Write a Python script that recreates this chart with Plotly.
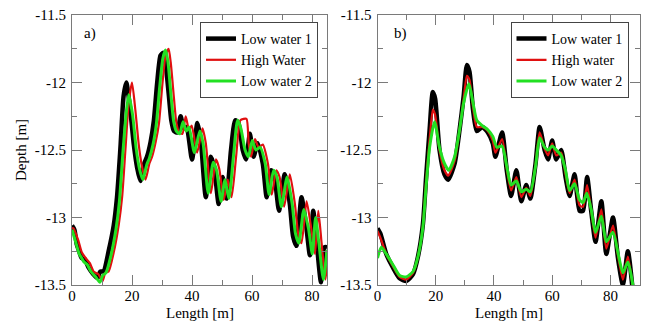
import plotly.graph_objects as go

# ---------------- data ----------------
# Panel a)
lw1_a_x = [0, 0.8, 1.6, 2.4, 3.2, 4.3, 5.5, 7.1, 8.5, 9.4, 10.5, 12.2, 13.9, 15.0, 16.1, 17.2, 18.1, 19.4,
           20.6, 21.7, 22.8, 24.1, 25.0, 26.2, 27.3, 28.4, 29.5, 30.4, 31.2, 32.3, 33.1, 34.0, 35.1, 36.2,
           37.3, 38.2, 40.0, 41.8, 42.9, 44.6, 46.3, 47.4, 48.9, 50.2, 51.5, 53.0, 54.4, 55.5, 56.9, 58.0,
           59.3, 60.5, 61.9, 63.6, 64.9, 66.4, 67.5, 69.0, 70.9, 72.6, 73.7, 74.8, 76.5, 78.1, 79.3, 80.4,
           81.5, 83.0, 84.2, 85.0]
lw1_a_y = [-13.06, -13.09, -13.20, -13.25, -13.30, -13.31, -13.37, -13.42, -13.45, -13.40, -13.40, -13.25,
           -13.06, -12.85, -12.50, -12.10, -12.00, -12.20, -12.46, -12.63, -12.73, -12.60, -12.55, -12.44,
           -12.28, -12.00, -11.80, -11.78, -11.86, -12.10, -12.28, -12.36, -12.37, -12.25, -12.34, -12.33,
           -12.57, -12.30, -12.42, -12.85, -12.55, -12.63, -12.90, -12.70, -12.86, -12.50, -12.28, -12.30,
           -12.50, -12.57, -12.38, -12.55, -12.45, -12.60, -12.85, -12.65, -12.70, -12.95, -12.68, -12.90,
           -13.14, -13.21, -12.85, -13.07, -13.28, -12.95, -13.17, -13.48, -13.22, -13.22]

hw_a_x = [0, 0.5, 2.1, 3.3, 4.9, 6.0, 7.2, 8.8, 10.2, 11.1, 12.2, 13.9, 15.6, 16.7, 17.8, 18.9, 20.0, 21.1,
          22.3, 23.4, 24.5, 25.8, 26.7, 27.9, 29.0, 30.1, 31.2, 32.2, 32.9, 34.0, 34.8, 35.7, 36.8, 37.9,
          39.0, 39.9, 41.7, 43.5, 44.6, 46.3, 48.0, 49.1, 50.6, 51.9, 53.2, 54.7, 56.1, 57.2, 58.2, 58.9,
          59.7, 61.0, 62.2, 63.6, 65.3, 66.6, 68.1, 69.2, 70.7, 72.6, 74.3, 75.4, 76.5, 78.2, 79.8, 81.0,
          82.1, 83.2, 84.5, 85.5]
hw_a_y = [-13.08, -13.08, -13.17, -13.26, -13.31, -13.34, -13.40, -13.42, -13.47, -13.41, -13.40, -13.26,
          -13.05, -12.85, -12.50, -12.15, -12.00, -12.20, -12.47, -12.63, -12.72, -12.60, -12.55, -12.44,
          -12.30, -12.02, -11.80, -11.75, -11.85, -12.12, -12.30, -12.37, -12.38, -12.25, -12.35, -12.32,
          -12.52, -12.34, -12.45, -12.82, -12.57, -12.64, -12.87, -12.72, -12.85, -12.55, -12.28, -12.27,
          -12.27, -12.45, -12.55, -12.42, -12.48, -12.46, -12.60, -12.83, -12.65, -12.70, -12.92, -12.68,
          -12.90, -13.12, -13.19, -12.88, -13.09, -13.27, -12.95, -13.19, -13.46, -13.24]

lw2_a_x = [0, 1.2, 2.4, 3.2, 4.0, 5.1, 6.3, 7.9, 9.3, 10.2, 11.3, 13.0, 14.7, 15.8, 16.9, 18.0, 18.9, 20.2,
           21.4, 22.5, 23.6, 24.9, 25.8, 27.0, 28.1, 29.2, 30.3, 31.2, 32.0, 33.1, 33.9, 34.8, 35.9, 37.0,
           38.1, 39.0, 40.8, 42.6, 43.7, 45.4, 47.1, 48.2, 49.7, 51.0, 52.3, 53.8, 55.2, 56.3, 57.7, 58.8,
           60.1, 61.3, 62.7, 64.4, 65.7, 67.2, 68.3, 69.8, 71.7, 73.4, 74.5, 75.6, 77.3, 78.9, 80.1, 81.2,
           82.3, 83.8, 85.0]
lw2_a_y = [-13.09, -13.18, -13.27, -13.30, -13.33, -13.35, -13.40, -13.44, -13.48, -13.43, -13.41, -13.28,
           -13.08, -12.88, -12.54, -12.24, -12.09, -12.24, -12.49, -12.64, -12.72, -12.61, -12.56, -12.46,
           -12.31, -12.04, -11.82, -11.76, -11.85, -12.12, -12.29, -12.36, -12.38, -12.29, -12.36, -12.33,
           -12.52, -12.36, -12.45, -12.82, -12.59, -12.65, -12.88, -12.72, -12.86, -12.55, -12.28, -12.34,
           -12.50, -12.55, -12.43, -12.50, -12.48, -12.60, -12.83, -12.65, -12.70, -12.92, -12.70, -12.90,
           -13.12, -13.19, -12.94, -13.09, -13.27, -13.00, -13.19, -13.46, -13.24]

# Panel b)
b_x = [0, 1.0, 3.0, 5.3, 7.6, 9.9, 12.2, 13.9, 15.6, 16.7, 17.9, 19.0, 19.8, 21.3, 23.0, 24.3, 26.5, 28.2,
       29.6, 30.7, 31.6, 32.8, 34.1, 36.0, 37.9, 39.6, 40.5, 42.8, 44.4, 45.9, 47.7, 49.4, 51.1, 52.5, 54.3,
       55.7, 57.4, 58.6, 60.0, 61.4, 63.1, 64.6, 66.0, 67.7, 69.4, 70.6, 72.0, 73.4, 74.9, 76.9, 78.6, 80.9,
       82.6, 84.3, 86.0, 87.8]
lw1_b_y = [-13.08, -13.12, -13.27, -13.37, -13.45, -13.47, -13.42, -13.29, -13.05, -12.70, -12.35, -12.07,
           -12.12, -12.50, -12.68, -12.72, -12.60, -12.35, -12.10, -11.87, -11.92, -12.20, -12.36, -12.33,
           -12.37, -12.45, -12.55, -12.37, -12.65, -12.84, -12.65, -12.88, -12.76, -12.86, -12.60, -12.33,
           -12.50, -12.57, -12.43, -12.57, -12.50, -12.70, -12.84, -12.68, -12.95, -12.95, -12.70, -12.95,
           -13.18, -12.88, -13.27, -13.00, -13.30, -13.50, -13.25, -13.57]
hw_b_y = [-13.10, -13.15, -13.27, -13.36, -13.44, -13.46, -13.41, -13.29, -13.06, -12.73, -12.42, -12.20,
          -12.24, -12.50, -12.65, -12.69, -12.58, -12.35, -12.12, -11.95, -11.98, -12.18, -12.33, -12.33,
          -12.36, -12.43, -12.52, -12.42, -12.64, -12.80, -12.70, -12.85, -12.78, -12.84, -12.61, -12.37,
          -12.49, -12.54, -12.45, -12.54, -12.52, -12.68, -12.82, -12.72, -12.91, -12.92, -12.76, -12.95,
          -13.15, -12.94, -13.23, -13.06, -13.28, -13.46, -13.29, -13.54]
lw2_b_x = [0, 1.3, 3.0, 5.3, 7.6, 9.9, 12.2, 13.9, 15.6, 16.7, 17.9, 19.6, 21.3, 23.0, 24.5, 26.5, 28.2,
           29.6, 31.4, 32.8, 34.1, 36.0, 37.9, 39.6, 41.0, 42.8, 44.4, 45.9, 47.7, 49.4, 51.1, 52.5, 54.3,
           55.7, 57.4, 58.6, 60.0, 61.4, 63.1, 64.6, 66.0, 67.7, 69.4, 70.6, 71.9, 73.4, 74.9, 76.9, 78.6,
           80.9, 82.6, 84.3, 86.0, 87.8]
lw2_b_y = [-13.30, -13.22, -13.27, -13.35, -13.43, -13.44, -13.40, -13.29, -13.07, -12.77, -12.48, -12.29,
           -12.48, -12.60, -12.65, -12.55, -12.35, -12.15, -12.01, -12.15, -12.28, -12.32, -12.35, -12.40,
           -12.48, -12.47, -12.62, -12.76, -12.73, -12.81, -12.79, -12.81, -12.62, -12.41, -12.48, -12.50,
           -12.47, -12.50, -12.54, -12.65, -12.80, -12.75, -12.87, -12.89, -12.82, -12.94, -13.11, -12.99,
           -13.18, -13.11, -13.26, -13.41, -13.33, -13.51]

names_a = ["Low water 1", "High Water", "Low water 2"]
names_b = ["Low water 1", "High water", "Low water 2"]
y_tickvals = [-13.5, -13, -12.5, -12, -11.5]
y_ticktext = ["-13.5", "-13", "-12.5", "-12", "-11.5"]
x_tickvals = [0, 20, 40, 60, 80]
x_ticktext = ["0", "20", "40", "60", "80"]

# ---------------- figure ----------------
FONT = "Liberation Serif"
BLACK, RED, GREEN = "#000000", "#e01010", "#22e022"
W = [4.5, 2.2, 3.0]

fig = go.Figure()
series_a = [(lw1_a_x, lw1_a_y), (hw_a_x, hw_a_y), (lw2_a_x, lw2_a_y)]
series_b = [(b_x, lw1_b_y), (b_x, hw_b_y), (lw2_b_x, lw2_b_y)]
colors = [BLACK, RED, GREEN]
for i, (xs, ys) in enumerate(series_a):
    fig.add_trace(go.Scatter(x=xs, y=ys, mode="lines", name=names_a[i],
                             line=dict(color=colors[i], width=W[i], shape="spline", smoothing=0.6),
                             xaxis="x", yaxis="y", legend="legend"))
for i, (xs, ys) in enumerate(series_b):
    fig.add_trace(go.Scatter(x=xs, y=ys, mode="lines", name=names_b[i],
                             line=dict(color=colors[i], width=W[i], shape="spline", smoothing=0.6),
                             xaxis="x2", yaxis="y2", legend="legend2"))

AX = "#7a7a7a"
TXT = dict(family=FONT, size=15, color="black")
LTXT = dict(family=FONT, size=14, color="black")
def xax(dom, rng, anchor):
    return dict(domain=dom, range=rng, anchor=anchor, tickvals=x_tickvals, ticktext=x_ticktext,
                ticks="inside", ticklen=10, tickcolor=AX, showline=True, linecolor=AX, linewidth=1,
                mirror="ticks", showgrid=False, zeroline=False, automargin=False, ticklabelstandoff=-3,
                minor=dict(dtick=10, ticklen=5, tickcolor=AX, ticks="inside", showgrid=False),
                tickfont=TXT)

def yax(dom, anchor):
    return dict(domain=dom, range=[-13.5, -11.5], anchor=anchor, tickvals=y_tickvals, ticktext=y_ticktext,
                ticks="inside", ticklen=10, tickcolor=AX, showline=True, linecolor=AX, linewidth=1,
                mirror="ticks", showgrid=False, zeroline=False, automargin=False, ticklabelstandoff=2,
                minor=dict(dtick=0.25, ticklen=5, tickcolor=AX, ticks="inside", showgrid=False),
                tickfont=TXT)

ydom = [1 - 285 / 325, 1 - 15 / 325]
LEG = dict(yanchor="top", xanchor="left", bgcolor="white", bordercolor="#444", borderwidth=1,
           font=LTXT, tracegroupgap=0, itemwidth=30)

def ann(text, px, py, angle=0):
    return dict(text=text, x=px / 650, y=1 - py / 325, xref="paper", yref="paper", showarrow=False,
                font=TXT, textangle=angle, xanchor="center", yanchor="middle")

fig.update_layout(
    width=650, height=325, margin=dict(l=0, r=0, t=0, b=0, autoexpand=False),
    paper_bgcolor="white", plot_bgcolor="white",
    xaxis=xax([72 / 650, 327 / 650], [0, 85], "y"),
    yaxis=yax(ydom, "x"),
    xaxis2=xax([377.5 / 650, 639.5 / 650], [0, 90], "y2"),
    yaxis2=yax(ydom, "x2"),
    legend=dict(LEG, x=200 / 650, y=1 - 22 / 325),
    legend2=dict(LEG, x=510.5 / 650, y=1 - 22 / 325),
    annotations=[
        ann("a)", 90, 33), ann("b)", 400, 33),
        ann("Length [m]", 200, 313), ann("Length [m]", 509, 313),
        ann("Depth [m]", 21, 150, -90),
    ],
)
fig.write_html("out.html", post_script="document.body.style.margin='0px';",
               config={"displayModeBar": False})
